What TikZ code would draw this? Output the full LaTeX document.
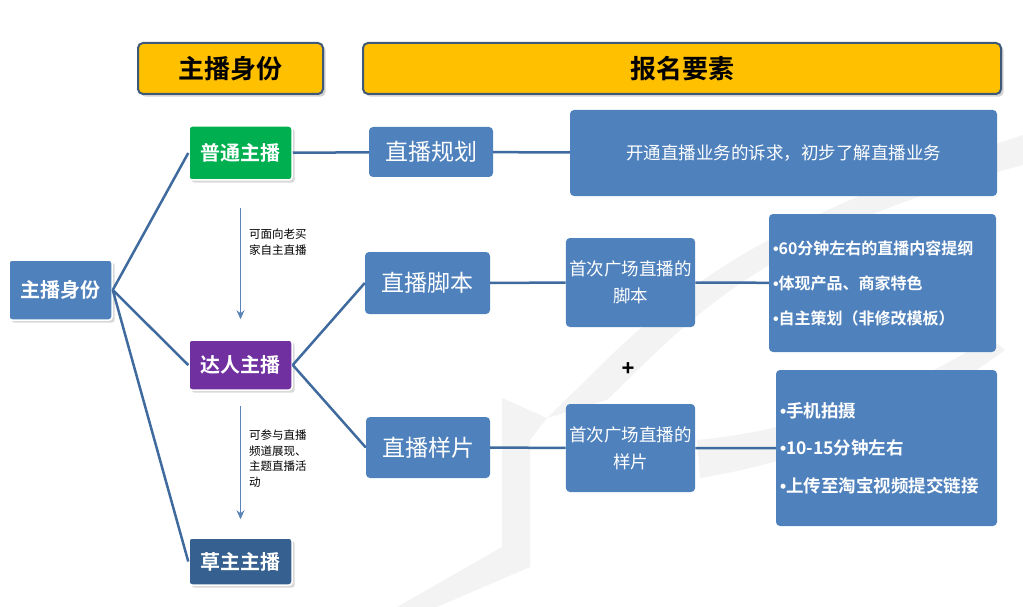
\documentclass[tikz,border=0pt]{standalone}
\usepackage{fontspec}
\setmainfont{Noto Sans CJK SC}[BoldFont={Noto Sans CJK SC Bold}]
\newfontfamily\dotfont{Liberation Sans}
\usepackage{tikz}
\usetikzlibrary{arrows,arrows.meta,positioning,shadows}

\definecolor{headyellow}{HTML}{FFC000}
\definecolor{headrule}{HTML}{3E5877}
\definecolor{boxblue}{HTML}{4F81BD}
\definecolor{linkblue}{HTML}{3F6A9E}
\definecolor{arrowblue}{HTML}{5A84B6}
\definecolor{greenid}{HTML}{00B050}
\definecolor{purpleid}{HTML}{7030A0}
\definecolor{darkid}{HTML}{35608F}
\definecolor{logogray}{HTML}{F3F3F3}

\newcommand{\bul}{{\dotfont\bfseries •}}

\tikzset{
  head/.style={draw=headrule, line width=2pt, fill=headyellow, rounded corners=5pt,
    font=\bfseries\fontsize{26}{30}\selectfont, drop shadow={opacity=0.35}},
  idbox/.style={draw=white, line width=1.5pt, rounded corners=3pt, text=white,
    minimum width=103pt, font=\bfseries\fontsize{20}{24}\selectfont,
    drop shadow={opacity=0.3}},
  bluebox/.style={fill=boxblue, rounded corners=4pt, text=white, align=center},
  stage/.style={bluebox, font=\fontsize{23}{27}\selectfont},
  firstbox/.style={bluebox, minimum width=129pt, font=\fontsize{17.5}{27}\selectfont},
  bullets/.style={bluebox, align=left, inner sep=4pt},
  link/.style={draw=linkblue, line width=2.5pt},
  upgrade/.style={-{Stealth[length=9pt,width=8pt]}, draw=arrowblue, line width=1pt},
  note/.style={anchor=north west, align=left, inner sep=0pt, font=\fontsize{11.5}{15.5}\selectfont}
}

\begin{document}
\begin{tikzpicture}[x=1pt,y=-1pt]
  \useasboundingbox (0,0) rectangle (1023,607);
  % faint logo behind
  \fill[logogray] (502,398) -- (547,418) -- (530,440) -- (530,567) -- (437,607) -- (397,607) -- (502,547) -- cycle;
  \fill[logogray] (547,418) .. controls (640,330) and (700,240) .. (1023,135)
    -- (1023,165) .. controls (760,235) and (690,320) .. (607,400) -- cycle;
  \fill[logogray] (697,440) .. controls (800,430) and (900,395) .. (990,338)
    -- (1005,350) .. controls (910,420) and (800,462) .. (700,478) -- cycle;

  % headers
  \node[head, minimum width=185pt, minimum height=51pt] (hid)  at (230.5,68.5) {主播身份};
  \node[head, minimum width=638pt, minimum height=51pt] (hreq) at (682,68.5)   {报名要素};

  % identities
  \node[idbox, fill=boxblue, minimum height=60pt] (anchor) at (60.5,290) {主播身份};
  \node[idbox, fill=greenid, minimum height=54pt] (putong) at (240.5,153) {普通主播};
  \node[idbox, fill=purpleid, minimum height=50pt] (daren) at (240.5,365) {达人主播};
  \node[idbox, fill=darkid, minimum height=47pt] (caozhu) at (240.5,561.5) {草主主播};

  % requirements
  \node[stage, minimum width=124pt, minimum height=50pt] (plan) at (431,152) {直播规划};
  \node[bluebox, minimum width=427pt, minimum height=86pt, font=\fontsize{17.5}{20}\selectfont] (plantext) at (783.5,153) {开通直播业务的诉求，初步了解直播业务};
  \node[stage, minimum width=125pt, minimum height=62pt] (script) at (427.5,283) {直播脚本};
  \node[firstbox, minimum height=89pt] (scriptfirst) at (630.5,282.5) {首次广场直播的\\脚本};
  \node[bullets, minimum height=138pt, text width=219pt, font=\bfseries\fontsize{16}{35}\selectfont] (scriptlist) at (882.5,283)
    {\bul{}60分钟左右的直播内容提纲\\\bul{}体现产品、商家特色\\\bul{}自主策划（非修改模板）};
  \node[stage, minimum width=124pt, minimum height=61pt] (sample) at (428,447.5) {直播样片};
  \node[firstbox, minimum height=88pt] (samplefirst) at (630.5,448) {首次广场直播的\\样片};
  \node[bullets, minimum height=156pt, text width=213pt, font=\bfseries\fontsize{17.5}{37.5}\selectfont] (samplelist) at (886.5,448)
    {\bul{}手机拍摄\\\bul{}10-15分钟左右\\\bul{}上传至淘宝视频提交链接};
  \node[font=\dotfont\bfseries\fontsize{22}{24}\selectfont] (plus) at (628,369) {+};

\path[link] (anchor.east) -- (putong.west)
  (anchor.east) -- (daren.west)
  (anchor.east) -- (caozhu.west)
  (putong) -- (plan) (plan) -- (plantext)
  (daren.east) -- (script.west)
  (daren.east) -- (sample.west)
  (script) -- (scriptfirst) (scriptfirst) -- (scriptlist)
  (sample) -- (samplefirst) (samplefirst) -- (samplelist);
	% Draw upgrade arrows
    \draw[upgrade, shorten <=27pt, shorten >=20pt] (putong.south) -- (daren.north);
    \draw[upgrade, shorten <=15pt, shorten >=18pt] (daren.south) -- (caozhu.north);
  \node[note] (note1) at (249,229) {可面向老买\\家自主直播};
  \node[note] (note2) at (249,430) {可参与直播\\频道展现、\\主题直播活\\动};
\end{tikzpicture}
\end{document}
